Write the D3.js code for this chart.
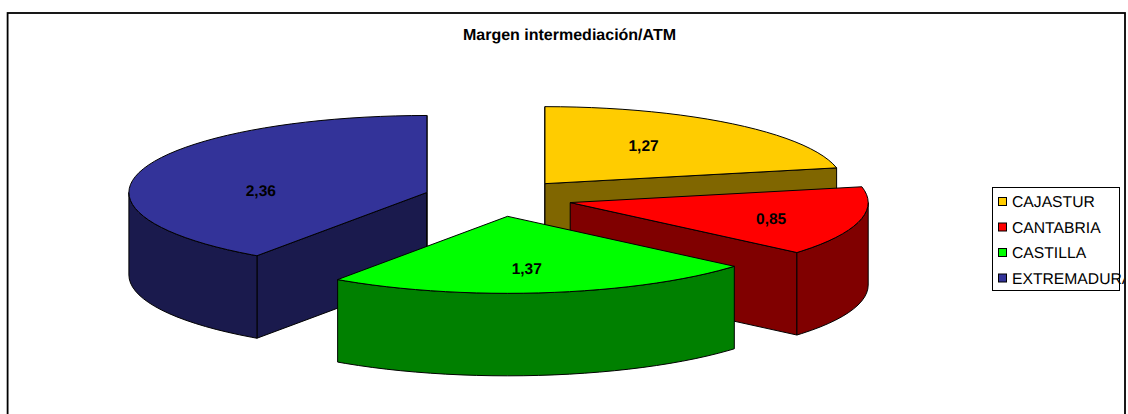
<!DOCTYPE html>
<html>
<head>
<meta charset="utf-8">
<script src="https://cdn.jsdelivr.net/npm/d3@7"></script>
<style>
html,body{margin:0;padding:0;background:#fff;overflow:hidden}
svg{display:block}
text{font-family:"Liberation Sans",Arial,sans-serif;fill:#000;text-rendering:geometricPrecision}
</style>
</head>
<body>
<svg id="c" width="1128" height="414"></svg>
<script>
const chartTitle = "Margen intermediación/ATM";
const categories = ["CAJASTUR", "CANTABRIA", "CASTILLA", "EXTREMADURA"];
const values = [1.27, 0.85, 1.37, 2.36];
const topColors = ["#FFCC00", "#FF0000", "#00FF00", "#333399"];
const sideColors = ["#806600", "#800000", "#008000", "#1A1A4D"];

const svg = d3.select("#c");
const W = 1128, H = 414;

// Projection of the tilted pie: unit-circle coordinates to screen pixels
const cx = 498, cy = 198, rx = 298, ry = 77, depth = 82.5, explode = 0.25, explodeY = 0.24;
const px = d3.scaleLinear().domain([-1, 1]).range([-rx, rx]);
const py = d3.scaleLinear().domain([-1, 1]).range([-ry, ry]);

// d3.pie gives the clockwise angle from 12 o'clock of every slice
const arcs = d3.pie().sort(null).value(d => d)(values).map((a, i) => {
  const mid = (a.startAngle + a.endAngle) / 2;
  return {
    i, a0: a.startAngle, a1: a.endAngle, mid,
    ox: cx + explode * px(Math.sin(mid)),
    oy: cy + explodeY * py(-Math.cos(mid))
  };
});

const STEP = Math.PI / 60;
function samples(a0, a1) {
  if (a1 <= a0) return [];
  const s = d3.range(Math.ceil(a0 / STEP + 1e-6) * STEP, a1, STEP);
  return [a0, ...s, a1];
}
const pointAt = (d, t, dz = 0) => [d.ox + px(Math.sin(t)), d.oy + py(-Math.cos(t)) + dz];
const line = d3.line();

function topPath(d) {
  return line([[d.ox, d.oy], ...samples(d.a0, d.a1).map(t => pointAt(d, t))]) + "Z";
}
function wallPath(d, t) {
  const p = pointAt(d, t);
  return line([[d.ox, d.oy], p, [p[0], p[1] + depth], [d.ox, d.oy + depth]]) + "Z";
}
function rimPath(d) {
  const a0 = Math.max(d.a0, Math.PI / 2), a1 = Math.min(d.a1, 3 * Math.PI / 2);
  const s = samples(a0, a1);
  if (!s.length) return null;
  return line([...s.map(t => pointAt(d, t)), ...s.slice().reverse().map(t => pointAt(d, t, depth))]) + "Z";
}

// Frame
svg.append("rect").attr("x", 7.6).attr("y", 13).attr("width", 1117.4).attr("height", H)
  .attr("fill", "#fff").attr("stroke", "#000").attr("stroke-width", 1.8);

svg.append("text").attr("x", 569.5).attr("y", 39.5).attr("text-anchor", "middle")
  .attr("font-size", 16).attr("font-weight", "bold").text(chartTitle);

// Painter's order: back slice, left slice, right slice, front slice
const order = [0, 3, 1, 2].map(i => arcs[i]);
const eps = 1e-6;
const slice = svg.append("g").selectAll("g").data(order).join("g");
slice.each(function (d) {
  const g = d3.select(this);
  const sideStyle = s => s.attr("fill", sideColors[d.i]).attr("stroke", "#000").attr("stroke-width", 1).attr("stroke-linejoin", "round");
  const walls = [];
  if (Math.sin(d.a0) <= eps) walls.push(d.a0);
  if (Math.sin(d.a1) >= -eps) walls.push(d.a1);
  walls.forEach(t => g.append("path").attr("d", wallPath(d, t)).call(sideStyle));
  const rim = rimPath(d);
  if (rim) g.append("path").attr("d", rim).call(sideStyle);
  g.append("path").attr("d", topPath(d)).attr("fill", topColors[d.i])
    .attr("stroke", "#000").attr("stroke-width", 1).attr("stroke-linejoin", "round");
});

// Value labels: horizontal and vertical fraction of the radius along the slice's mid-angle
const labelFractions = [[0.525, 0.63], [0.696, 0.83], [0.5, 0.68], [0.584, 0.086]];
svg.append("g").selectAll("text").data(order).join("text")
  .attr("x", d => d.ox + labelFractions[d.i][0] * px(Math.sin(d.mid)))
  .attr("y", d => d.oy + labelFractions[d.i][1] * py(-Math.cos(d.mid)))
  .attr("dy", "0.35em")
  .attr("text-anchor", "middle")
  .attr("font-size", 15.5).attr("font-weight", "bold")
  .text(d => d3.format(".2f")(values[d.i]).replace(".", ","));

// Legend
const legendY = d3.scalePoint().domain(categories).range([201.5, 278]);
svg.append("rect").attr("x", 992.5).attr("y", 187.5).attr("width", 127).attr("height", 103)
  .attr("fill", "#fff").attr("stroke", "#000").attr("stroke-width", 1);
svg.append("clipPath").attr("id", "lc").append("rect").attr("x", 0).attr("y", 0).attr("width", 1124).attr("height", H);
const lg = svg.append("g").attr("clip-path", "url(#lc)").selectAll("g").data(categories).join("g")
  .attr("transform", d => `translate(0,${legendY(d)})`);
lg.append("rect").attr("x", 998.5).attr("y", -4).attr("width", 8).attr("height", 8)
  .attr("fill", (d, i) => topColors[i]).attr("stroke", "#000").attr("stroke-width", 1);
lg.append("text").attr("x", 1012).attr("dy", "0.35em").attr("font-size", 15.7).text(d => d);
</script>
</body>
</html>
